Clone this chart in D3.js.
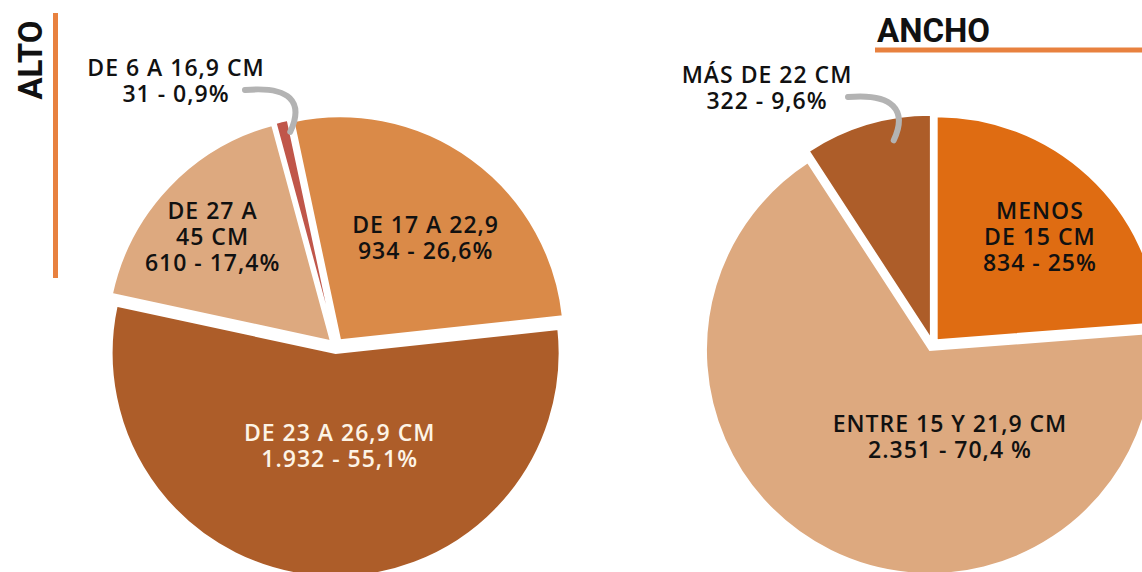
<!DOCTYPE html>
<html>
<head>
<meta charset="utf-8">
<script src="https://cdn.jsdelivr.net/npm/d3@7"></script>
<style>
  body { margin: 0; background: #fff; }
  .lbl { font-family: "Open Sans", sans-serif; font-weight: 600; font-size: 23px; letter-spacing: 1px; }
  .ttl { font-family: Roboto, sans-serif; font-weight: 700; font-size: 33px; fill: #111; }
</style>
</head>
<body>
<div id="chart"></div>
<script>
// ALTO (height) values
const altoCategories = ["DE 6 A 16,9 CM", "DE 17 A 22,9", "DE 23 A 26,9 CM", "DE 27 A 45 CM"];
const altoValues = [31, 934, 1932, 610];
const altoPercents = ["0,9%", "26,6%", "55,1%", "17,4%"];

// ANCHO (width) values
const anchoCategories = ["MENOS DE 15 CM", "ENTRE 15 Y 21,9 CM", "MÁS DE 22 CM"];
const anchoValues = [834, 2351, 322];
const anchoPercents = ["25%", "70,4 %", "9,6%"];

const W = 1142, H = 572;
const R = 224;
const rad = d => d * Math.PI / 180;

const svg = d3.select("#chart").append("svg")
    .attr("width", W)
    .attr("height", H);

// draws one exploded pie with its labels
function drawPie(opts) {
    const data = opts.categories.map((c, i) => ({
        cat: c, value: opts.values[i], pct: opts.percents[i], i: i
    }));

    const pie = d3.pie()
        .sort(null)
        .value(d => d.value)
        .startAngle(rad(opts.start))
        .endAngle(rad(opts.start) + 2 * Math.PI);

    const arc = d3.arc().innerRadius(0).outerRadius(R);
    const arcs = pie(data);

    const g = svg.append("g").attr("transform", `translate(${opts.cx},${opts.cy})`);

    // explode every slice a little along its bisector
    const shift = a => {
        const mid = (a.startAngle + a.endAngle) / 2;
        return [opts.explode * Math.sin(mid), -opts.explode * Math.cos(mid)];
    };

    g.selectAll("path.slice")
        .data(arcs)
        .enter()
        .append("path")
        .attr("class", "slice")
        .attr("d", arc)
        .attr("transform", d => `translate(${shift(d)})`)
        .attr("fill", d => opts.colors[d.index])
        .attr("stroke", "#fff")
        .attr("stroke-width", 2);

    // labels inside slices (or outside for small ones)
    arcs.forEach(a => {
        const lay = opts.labels[a.index];
        let x, y;
        if (lay.outside) {
            x = lay.x - opts.cx;
            y = lay.y - opts.cy;
        } else {
            const s = shift(a);
            x = s[0] + lay.r * Math.sin(rad(lay.ang));
            y = s[1] - lay.r * Math.cos(rad(lay.ang));
        }
        const lines = lay.lines.concat([`${d3.format(",")(a.data.value).replace(/,/g, ".")} - ${a.data.pct}`]);
        const lh = 26;
        const first = y - (lines.length - 1) * lh / 2 + 8;
        const t = g.append("text")
            .attr("class", "lbl")
            .attr("text-anchor", "middle")
            .attr("fill", lay.color || "#111");
        lines.forEach((ln, k) => {
            t.append("tspan")
                .attr("x", x)
                .attr("y", first + k * lh)
                .text(ln);
        });

        // grey leader line from the outside label to its slice
        if (lay.outside) {
            const s = shift(a);
            const ex = s[0] + (R - lay.tipIn) * Math.sin(rad(lay.tipAng));
            const ey = s[1] - (R - lay.tipIn) * Math.cos(rad(lay.tipAng));
            const sx = lay.lx - opts.cx, sy = lay.ly - opts.cy;
            const p = d3.path();
            p.moveTo(sx, sy);
            p.bezierCurveTo(sx + 45, sy - 4, ex + 14, ey - 30, ex, ey);
            g.append("path")
                .attr("d", p.toString())
                .attr("fill", "none")
                .attr("stroke", "#b3b3b3")
                .attr("stroke-width", 6)
                .attr("stroke-linecap", "round");
        }
    });
}

drawPie({
    categories: altoCategories,
    values: altoValues,
    percents: altoPercents,
    cx: 336, cy: 346, start: -15.2, explode: 7,
    colors: ["#c0564a", "#da8a48", "#ad5d29", "#dda97f"],
    labels: [
        { outside: true, x: 176, y: 81, lines: ["DE 6 A 16,9 CM"], lx: 245, ly: 90, tipAng: -12, tipIn: 12 },
        { ang: 40, r: 133, lines: ["DE 17 A 22,9"] },
        { ang: 177.5, r: 93, lines: ["DE 23 A 26,9 CM"], color: "#fdf4e6" },
        { ang: 311.5, r: 158, lines: ["DE 27 A", "45 CM"] }
    ]
});

drawPie({
    categories: anchoCategories,
    values: anchoValues,
    percents: anchoPercents,
    cx: 932.6, cy: 344.6, start: 0, explode: 6,
    colors: ["#df6c12", "#dda97f", "#ad5d29"],
    labels: [
        { ang: 45, r: 146, lines: ["MENOS", "DE 15 CM"] },
        { ang: 167, r: 89, lines: ["ENTRE 15 Y 21,9 CM"] },
        { outside: true, x: 767, y: 88, lines: ["MÁS DE 22 CM"], lx: 848, ly: 97, tipAng: -10.6, tipIn: 22 }
    ]
});

// titles
svg.append("text")
    .attr("class", "ttl")
    .attr("transform", "translate(42,60) rotate(-90)")
    .attr("text-anchor", "middle")
    .text("ALTO");

svg.append("line")
    .attr("x1", 55.5).attr("x2", 55.5)
    .attr("y1", 13).attr("y2", 278)
    .attr("stroke", "#e8813f")
    .attr("stroke-width", 5);

svg.append("text")
    .attr("class", "ttl")
    .attr("x", 877)
    .attr("y", 42)
    .text("ANCHO");

svg.append("line")
    .attr("x1", 875).attr("x2", W)
    .attr("y1", 50).attr("y2", 50)
    .attr("stroke", "#e8813f")
    .attr("stroke-width", 5);
</script>
</body>
</html>
